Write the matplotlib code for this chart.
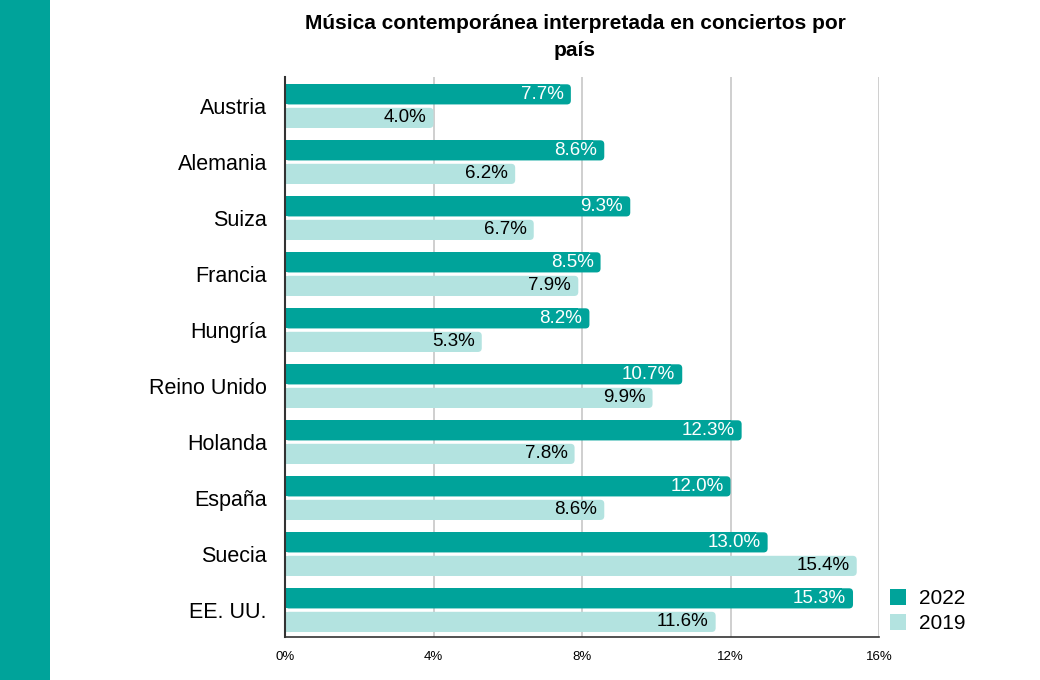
import matplotlib
import matplotlib.pyplot as plt
from matplotlib.patches import FancyBboxPatch, Patch, Rectangle

matplotlib.use("Agg")
plt.rcParams["font.family"] = ["Liberation Sans", "DejaVu Sans"]

# Data
countries = ["Austria", "Alemania", "Suiza", "Francia", "Hungría",
             "Reino Unido", "Holanda", "España", "Suecia", "EE. UU."]
values_2022 = [7.7, 8.6, 9.3, 8.5, 8.2, 10.7, 12.3, 12.0, 13.0, 15.3]
values_2019 = [4.0, 6.2, 6.7, 7.9, 5.3, 9.9, 7.8, 8.6, 15.4, 11.6]
x_ticks = [0, 4, 8, 12, 16]

DARK = "#00a39a"
LIGHT = "#b3e3e0"

fig = plt.figure(figsize=(10.4, 6.8), dpi=100)
fig.patch.set_facecolor("white")
fig.patches.append(Rectangle((0, 0), 50 / 1040, 1, transform=fig.transFigure,
                             facecolor=DARK, edgecolor="none", zorder=0))

ax = fig.add_axes([285 / 1040, 43 / 680, 594 / 1040, 560 / 680])
ax.set_xlim(0, 16)
ax.set_ylim(9.48, -0.52)

bar_h = 0.36
off = 0.21
# rounding: ~4px radius; x 37.1 px/unit, y 56 px/unit
rad = 4 / 37.1
aspect = 37.1 / 56


def rounded_bar(y, v, color):
    # square left part + rounded full bar
    ax.barh(y, max(v - 0.3, 0), height=bar_h, color=color, zorder=2)
    p = FancyBboxPatch((0, y - bar_h / 2), v, bar_h,
                       boxstyle=f"round,pad=0,rounding_size={rad}",
                       mutation_aspect=aspect, facecolor=color,
                       edgecolor="none", zorder=2)
    ax.add_patch(p)


for i, (a, b) in enumerate(zip(values_2022, values_2019)):
    rounded_bar(i - off, a, DARK)
    rounded_bar(i + off, b, LIGHT)
    ax.text(a - 0.19, i - off, f"{a:.1f}%", ha="right", va="center",
            color="white", fontsize=13.5, zorder=3)
    ax.text(b - 0.19, i + off, f"{b:.1f}%", ha="right", va="center",
            color="black", fontsize=13.5, zorder=3)

ax.set_yticks(range(len(countries)))
ax.set_yticklabels(countries, fontsize=15.5)
ax.set_xticks(x_ticks)
ax.set_xticklabels([f"{t}%" for t in x_ticks], fontsize=9.5)
ax.tick_params(axis="both", length=0)
ax.tick_params(axis="y", pad=13)
ax.tick_params(axis="x", pad=10)

ax.grid(axis="x", color="#cccccc", linewidth=1.3, zorder=0)
ax.set_axisbelow(True)
for s in ["top", "right"]:
    ax.spines[s].set_visible(False)
ax.spines["left"].set_color("#333333")
ax.spines["left"].set_linewidth(1.5)
ax.spines["bottom"].set_color("#333333")
ax.spines["bottom"].set_linewidth(1.2)
ax.spines["left"].set_zorder(4)

fig.text(575 / 1040, 1 - 37 / 680,
         "Música contemporánea interpretada en conciertos por\npaís",
         ha="center", va="center", fontsize=15, fontweight="bold",
         linespacing=1.55)

handles = [Patch(facecolor=DARK, edgecolor="none", label="2022"),
           Patch(facecolor=LIGHT, edgecolor="none", label="2019")]
fig.legend(handles=handles, loc="lower left",
           bbox_to_anchor=(871 / 1040, 28 / 680), frameon=False,
           fontsize=15, handlelength=0.8, handleheight=0.8,
           handletextpad=0.6, labelspacing=0.3)

fig.savefig("out.png", dpi=100)
plt.close(fig)
